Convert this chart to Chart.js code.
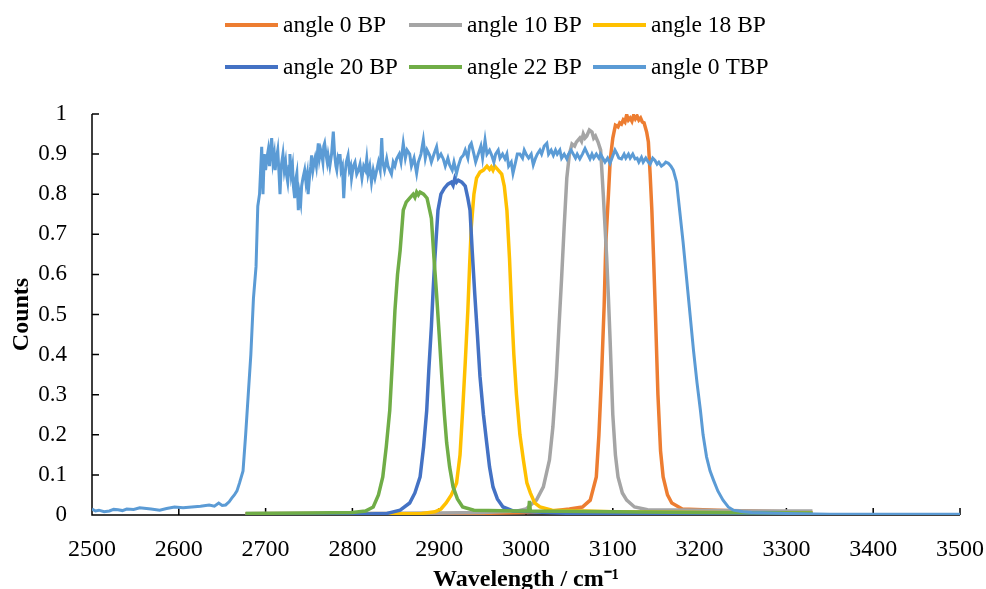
<!DOCTYPE html>
<html>
<head>
<meta charset="utf-8">
<title>Band-pass filters</title>
<script src="https://cdn.jsdelivr.net/npm/chart.js@4.4.0/dist/chart.umd.min.js"></script>
<style>
  html, body { margin: 0; padding: 0; background: #fff; }
  #wrap { width: 986px; height: 589px; }
</style>
</head>
<body>
<div id="wrap"><canvas id="lineChart" width="986" height="589"></canvas></div>
<script>
// series names + colours (Office palette)
const seriesNames = ['angle 0 BP', 'angle 10 BP', 'angle 18 BP', 'angle 20 BP', 'angle 22 BP', 'angle 0 TBP'];
const seriesColors = ['#ED7D31', '#A5A5A5', '#FFC000', '#4472C4', '#70AD47', '#5B9BD5'];

// axis ticks
const xTicks = [2500, 2600, 2700, 2800, 2900, 3000, 3100, 3200, 3300, 3400, 3500];
const yTicks = [0, 0.1, 0.2, 0.3, 0.4, 0.5, 0.6, 0.7, 0.8, 0.9, 1];

// angle 0 BP
const bp0X = [2677, 2750, 2850, 2950, 3000, 3030, 3050, 3065, 3074, 3081, 3084, 3087, 3090, 3092, 3095, 3097, 3100, 3103, 3106, 3108, 3110, 3112, 3114, 3116, 3118, 3120, 3122, 3124, 3126, 3128, 3130, 3132, 3134, 3136, 3139, 3141, 3143, 3145, 3147, 3149, 3152, 3155, 3158, 3163, 3168, 3180, 3220, 3260, 3300, 3330];
const bp0Y = [0.003, 0.004, 0.003, 0.004, 0.006, 0.01, 0.015, 0.02, 0.037, 0.095, 0.2, 0.345, 0.52, 0.68, 0.8, 0.885, 0.94, 0.972, 0.968, 0.978, 0.975, 0.985, 0.98, 0.998, 0.985, 0.99, 0.982, 0.997, 0.988, 0.995, 0.985, 0.99, 0.98, 0.978, 0.955, 0.93, 0.85, 0.76, 0.64, 0.51, 0.3, 0.16, 0.095, 0.05, 0.03, 0.015, 0.012, 0.01, 0.008, 0.006];

// angle 10 BP
const bp10X = [2677, 2800, 2900, 2950, 2990, 3000, 3012, 3020, 3027, 3031, 3035, 3038, 3041, 3044, 3047, 3050, 3053, 3056, 3058, 3060, 3062, 3064, 3066, 3068, 3070, 3073, 3076, 3078, 3080, 3083, 3086, 3089, 3091, 3093, 3095, 3097, 3100, 3103, 3106, 3111, 3116, 3125, 3140, 3200, 3260, 3330];
const bp10Y = [0.004, 0.004, 0.005, 0.006, 0.01, 0.015, 0.037, 0.07, 0.137, 0.22, 0.345, 0.47, 0.59, 0.72, 0.84, 0.9, 0.925, 0.92, 0.93, 0.935, 0.94, 0.932, 0.95, 0.94, 0.945, 0.96, 0.955, 0.94, 0.945, 0.93, 0.91, 0.8, 0.72, 0.64, 0.54, 0.43, 0.25, 0.15, 0.095, 0.055, 0.037, 0.02, 0.013, 0.012, 0.01, 0.01];

// angle 18 BP
const bp18X = [2677, 2800, 2880, 2895, 2902, 2908, 2914, 2920, 2924, 2927, 2930, 2933, 2935, 2937, 2940, 2943, 2947, 2951, 2955, 2958, 2960, 2962, 2964, 2968, 2972, 2975, 2978, 2981, 2983.5, 2986, 2989, 2993, 2997, 3001, 3005, 3010, 3016, 3030, 3100, 3200, 3330];
const bp18Y = [0.003, 0.003, 0.004, 0.008, 0.015, 0.03, 0.05, 0.08, 0.15, 0.26, 0.38, 0.51, 0.62, 0.72, 0.8, 0.84, 0.855, 0.86, 0.87, 0.862, 0.868, 0.86, 0.87, 0.86, 0.85, 0.82, 0.76, 0.64, 0.51, 0.4, 0.3, 0.2, 0.137, 0.08, 0.055, 0.03, 0.02, 0.012, 0.008, 0.006, 0.005];

// angle 20 BP
const bp20X = [2677, 2800, 2840, 2855, 2866, 2872, 2878, 2882, 2885.6, 2888, 2891, 2893, 2895, 2898.6, 2902, 2906, 2910, 2914, 2916, 2918, 2920, 2922, 2926, 2930, 2933, 2935.5, 2938, 2941, 2944, 2947, 2951, 2954.7, 2958, 2962, 2967, 2973.5, 2985, 3050, 3330];
const bp20Y = [0.002, 0.002, 0.004, 0.012, 0.03, 0.055, 0.095, 0.17, 0.26, 0.36, 0.47, 0.56, 0.64, 0.76, 0.8, 0.815, 0.825, 0.83, 0.822, 0.84, 0.83, 0.835, 0.83, 0.82, 0.79, 0.76, 0.66, 0.55, 0.45, 0.345, 0.25, 0.18, 0.12, 0.07, 0.04, 0.02, 0.01, 0.004, 0.003];

// angle 22 BP
const bp22X = [2677, 2750, 2800, 2815, 2824, 2830, 2835, 2839, 2843, 2846, 2849, 2852, 2855, 2858.6, 2862, 2866, 2870, 2872, 2874, 2876, 2878, 2882, 2886, 2889, 2891, 2894, 2897, 2900, 2903, 2906, 2908.6, 2912, 2916, 2921, 2927, 2940, 2990, 3003, 3004, 3005, 3100, 3200, 3330];
const bp22Y = [0.004, 0.005, 0.006, 0.01, 0.02, 0.05, 0.095, 0.17, 0.26, 0.38, 0.51, 0.6, 0.66, 0.76, 0.78, 0.79, 0.8, 0.792, 0.805, 0.798, 0.805, 0.8, 0.79, 0.76, 0.74, 0.64, 0.55, 0.45, 0.345, 0.25, 0.18, 0.12, 0.07, 0.04, 0.02, 0.012, 0.01, 0.01, 0.035, 0.01, 0.008, 0.006, 0.005];

// angle 0 TBP (wide band, noisy top)
const tbpX = [
  2500, 2504, 2508, 2514, 2520, 2525, 2530, 2535, 2540, 2548, 2555, 2560, 2568, 2578, 2586, 2595, 2605, 2615, 2625, 2635, 2641, 2646, 2650, 2654, 2658, 2661, 2664, 2667, 2670, 2674, 2677, 2680, 2683, 2686, 2689, 2691, 2693,
  2695.5, 2697, 2698.5, 2700, 2701.5, 2703, 2704.5, 2706, 2707, 2708.5, 2710, 2711, 2712.5, 2714, 2715.5, 2716.6, 2718, 2720, 2721.5, 2723, 2724, 2725.5, 2727, 2728, 2729.5, 2731, 2732, 2733.5, 2735, 2736, 2737.7, 2739, 2740.5, 2741.5, 2743, 2745, 2746.5, 2748, 2749, 2750.5, 2752, 2753, 2754.5, 2756, 2757, 2758.5, 2760, 2760.7, 2762, 2763.5, 2764.6, 2766, 2767, 2768, 2769.5, 2771, 2772, 2774, 2776, 2778, 2779.5, 2781, 2782, 2783.5, 2785, 2785.7, 2787, 2788.5, 2790, 2791.5, 2793, 2795, 2796.5, 2798, 2799, 2801, 2803, 2805, 2807, 2808.8, 2811, 2813, 2815, 2816.5, 2818, 2820, 2822, 2824, 2826, 2828, 2830, 2832, 2833.8, 2835, 2837, 2839.5, 2841, 2843, 2845, 2847, 2849, 2851,
  2854, 2856, 2858.6, 2861, 2863, 2866, 2868, 2871, 2874, 2876, 2879, 2881.7, 2884, 2886, 2889, 2891, 2894, 2897, 2899, 2902, 2904.7, 2907, 2910, 2912, 2915, 2917, 2920, 2922, 2925, 2927.8, 2930, 2933, 2935, 2937, 2940, 2942, 2945, 2948, 2950, 2952.8, 2955, 2958, 2960.5, 2963, 2965, 2968, 2970, 2973, 2975.8, 2978, 2980, 2983, 2985, 2988, 2990, 2993, 2996, 2998, 3000.8,
  3003, 3006, 3008.4, 3011, 3013, 3016, 3018, 3021, 3024, 3026, 3029, 3031.5, 3034, 3036, 3039, 3041, 3044, 3047, 3049, 3052, 3054.5, 3057, 3059, 3062, 3065, 3068, 3071, 3073.7, 3076, 3078, 3081, 3084, 3086, 3089, 3091, 3094, 3096.8, 3099, 3102.5, 3105, 3107, 3110, 3113, 3115, 3118, 3120, 3123, 3125.6, 3128, 3130, 3133, 3135, 3138, 3141, 3143, 3146, 3148.6, 3151, 3153, 3156, 3159, 3161, 3164, 3167, 3169.7,
  3173.5, 3177, 3181, 3185, 3189, 3193, 3197, 3201, 3204, 3208, 3212, 3216, 3221, 3227, 3233, 3239, 3250, 3260, 3280, 3300, 3350, 3400, 3450, 3500,
];
const tbpY = [
  0.015, 0.01, 0.012, 0.008, 0.01, 0.014, 0.013, 0.011, 0.015, 0.014, 0.018, 0.017, 0.015, 0.012, 0.016, 0.02, 0.018, 0.02, 0.022, 0.025, 0.022, 0.03, 0.024, 0.025, 0.033, 0.042, 0.05, 0.06, 0.08, 0.11, 0.2, 0.3, 0.4, 0.54, 0.62, 0.77, 0.8,
  0.918, 0.8, 0.9, 0.86, 0.89, 0.91, 0.87, 0.92, 0.94, 0.88, 0.9, 0.86, 0.89, 0.91, 0.85, 0.8, 0.87, 0.9, 0.86, 0.88, 0.85, 0.83, 0.87, 0.9, 0.85, 0.87, 0.82, 0.79, 0.84, 0.852, 0.76, 0.8, 0.78, 0.82, 0.84, 0.86, 0.83, 0.85, 0.8, 0.84, 0.87, 0.897, 0.86, 0.88, 0.89, 0.87, 0.91, 0.927, 0.89, 0.91, 0.9, 0.88, 0.92, 0.927, 0.9, 0.88, 0.897, 0.87, 0.9, 0.956, 0.9, 0.87, 0.86, 0.89, 0.88, 0.9, 0.86, 0.87, 0.79, 0.85, 0.88, 0.897, 0.86, 0.87, 0.84, 0.87, 0.88, 0.85, 0.86, 0.875, 0.84, 0.87, 0.86, 0.888, 0.85, 0.87, 0.83, 0.86, 0.84, 0.86, 0.88, 0.86, 0.94, 0.88, 0.86, 0.888, 0.87, 0.86, 0.85, 0.88, 0.87, 0.888,
  0.9, 0.88, 0.927, 0.89, 0.91, 0.9, 0.87, 0.89, 0.852, 0.88, 0.9, 0.935, 0.89, 0.91, 0.897, 0.88, 0.9, 0.918, 0.89, 0.9, 0.888, 0.87, 0.89, 0.873, 0.86, 0.88, 0.852, 0.87, 0.89, 0.897, 0.91, 0.89, 0.92, 0.927, 0.9, 0.88, 0.9, 0.92, 0.89, 0.935, 0.9, 0.91, 0.897, 0.88, 0.9, 0.91, 0.89, 0.9, 0.888, 0.9, 0.87, 0.88, 0.852, 0.88, 0.9, 0.9, 0.89, 0.91, 0.897,
  0.89, 0.9, 0.873, 0.89, 0.9, 0.91, 0.9, 0.92, 0.927, 0.9, 0.91, 0.897, 0.91, 0.9, 0.91, 0.89, 0.9, 0.888, 0.9, 0.91, 0.9, 0.89, 0.9, 0.888, 0.9, 0.914, 0.9, 0.888, 0.9, 0.89, 0.9, 0.89, 0.9, 0.888, 0.88, 0.89, 0.877, 0.89, 0.91, 0.9, 0.89, 0.888, 0.9, 0.89, 0.9, 0.89, 0.9, 0.888, 0.89, 0.88, 0.892, 0.88, 0.89, 0.88, 0.875, 0.89, 0.884, 0.875, 0.88, 0.87, 0.875, 0.88, 0.877, 0.87, 0.86,
  0.83, 0.76, 0.68, 0.59, 0.5, 0.41, 0.33, 0.26, 0.2, 0.145, 0.11, 0.087, 0.06, 0.037, 0.02, 0.012, 0.008, 0.006, 0.005, 0.004, 0.002, 0.002, 0.002, 0.002,
];

const seriesX = [bp0X, bp10X, bp18X, bp20X, bp22X, tbpX];
const seriesY = [bp0Y, bp10Y, bp18Y, bp20Y, bp22Y, tbpY];

const serif = "'Liberation Serif', 'Times New Roman', serif";

const toPoints = (xs, ys) => xs.map((x, i) => ({ x, y: ys[i] }));

const datasets = seriesNames.map((name, i) => ({
  label: name,
  data: toPoints(seriesX[i], seriesY[i]),
  borderColor: seriesColors[i],
  backgroundColor: seriesColors[i],
  borderWidth: i === 5 ? 3 : 3.5,
  pointRadius: 0,
  tension: 0,
  fill: false,
  // excel paints the last series on top
  order: seriesNames.length - i,
}));

// axis lines + inward tick marks
const axisPlugin = {
  id: 'axisPlugin',
  beforeDatasetsDraw(chart) {
    const { ctx, chartArea, scales } = chart;
    ctx.save();
    ctx.strokeStyle = '#000';
    ctx.lineWidth = 1.5;
    ctx.beginPath();
    ctx.moveTo(chartArea.left, chartArea.top);
    ctx.lineTo(chartArea.left, chartArea.bottom);
    ctx.lineTo(chartArea.right, chartArea.bottom);
    yTicks.forEach((v) => {
      const y = scales.y.getPixelForValue(v);
      ctx.moveTo(chartArea.left, y);
      ctx.lineTo(chartArea.left + 7, y);
    });
    xTicks.forEach((v) => {
      const x = scales.x.getPixelForValue(v);
      ctx.moveTo(x, chartArea.bottom);
      ctx.lineTo(x, chartArea.bottom - 7);
    });
    ctx.stroke();
    ctx.restore();
  },
};

// two-row legend, three columns
const legendPlugin = {
  id: 'legendPlugin',
  afterDraw(chart) {
    const { ctx } = chart;
    const colW = 184;
    const swatch = 53;
    const startX = chart.width / 2 - 268;
    const rows = [25, 67];
    ctx.save();
    ctx.font = `23.5px ${serif}`;
    ctx.textBaseline = 'middle';
    ctx.fillStyle = '#000';
    chart.data.datasets.forEach((ds, i) => {
      const x = startX + (i % 3) * colW;
      const y = rows[Math.floor(i / 3)];
      ctx.strokeStyle = ds.borderColor;
      ctx.lineWidth = 4;
      ctx.beginPath();
      ctx.moveTo(x, y);
      ctx.lineTo(x + swatch, y);
      ctx.stroke();
      ctx.fillText(ds.label, x + swatch + 5, y + 1);
    });
    ctx.restore();
  },
};

new Chart(document.getElementById('lineChart').getContext('2d'), {
  type: 'line',
  data: { datasets },
  options: {
    responsive: false,
    animation: false,
    layout: { padding: { top: 114, right: 26, left: 0, bottom: 0 } },
    plugins: { legend: { display: false }, tooltip: { enabled: false } },
    scales: {
      x: {
        type: 'linear',
        min: 2500,
        max: 3500,
        afterBuildTicks: (scale) => { scale.ticks = xTicks.map((v) => ({ value: v })); },
        afterFit: (scale) => {
          scale.height = 74;
          scale.paddingLeft = 0;
          scale.paddingRight = 0;
        },
        grid: { display: false },
        border: { display: false },
        ticks: {
          color: '#000',
          padding: 12,
          maxRotation: 0,
          font: { family: serif, size: 24 },
          callback: (v) => String(v),
        },
        title: {
          display: true,
          text: 'Wavelength / cm⁻¹',
          color: '#000',
          padding: { top: 0, bottom: 0 },
          font: { family: serif, size: 24, weight: 'bold', lineHeight: 0.8 },
        },
      },
      y: {
        type: 'linear',
        min: 0,
        max: 1,
        afterBuildTicks: (scale) => { scale.ticks = yTicks.map((v) => ({ value: v })); },
        afterFit: (scale) => {
          scale.width = 92;
          scale.paddingTop = 0;
          scale.paddingBottom = 0;
        },
        grid: { display: false },
        border: { display: false },
        ticks: {
          color: '#000',
          padding: 17,
          font: { family: serif, size: 23 },
          callback: (v) => String(Math.round(v * 10) / 10),
        },
        title: {
          display: true,
          text: 'Counts',
          color: '#000',
          padding: { top: 7, bottom: 0 },
          font: { family: serif, size: 24, weight: 'bold' },
        },
      },
    },
  },
  plugins: [axisPlugin, legendPlugin],
});
</script>
</body>
</html>
